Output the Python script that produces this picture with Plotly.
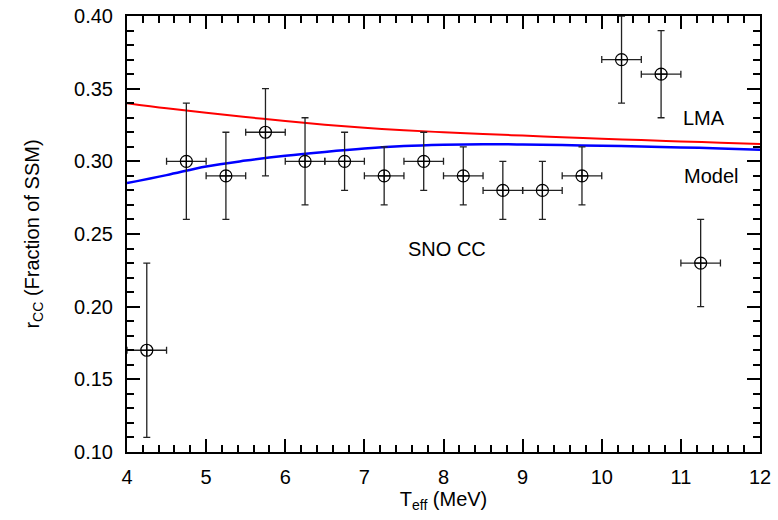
import plotly.graph_objects as go

# Data points (SNO CC)
t_eff = [4.25, 4.75, 5.25, 5.75, 6.25, 6.75, 7.25, 7.75, 8.25, 8.75, 9.25, 9.75, 10.25, 10.75, 11.25]
r_cc = [0.17, 0.30, 0.29, 0.32, 0.30, 0.30, 0.29, 0.30, 0.29, 0.28, 0.28, 0.29, 0.37, 0.36, 0.23]
r_err = [0.06, 0.04, 0.03, 0.03, 0.03, 0.02, 0.02, 0.02, 0.02, 0.02, 0.02, 0.02, 0.03, 0.03, 0.03]
t_err = [0.25] * 15

# Curves
curve_x = [4.0, 4.5, 5.0, 5.5, 6.0, 6.5, 7.0, 7.5, 8.0, 8.5, 9.0, 9.5, 10.0, 10.5, 11.0, 11.5, 12.0]
lma = [0.340, 0.3365, 0.3335, 0.3305, 0.3277, 0.3252, 0.3231, 0.3214, 0.3200, 0.3188, 0.3177, 0.3166, 0.3156, 0.3146, 0.3137, 0.3128, 0.3120]
model = [0.285, 0.2905, 0.2965, 0.3005, 0.3038, 0.3065, 0.3088, 0.3105, 0.3114, 0.3118, 0.3116, 0.3112, 0.3107, 0.3102, 0.3096, 0.3089, 0.3080]

FONT = "Liberation Sans, Arial, sans-serif"

fig = go.Figure()
fig.add_trace(go.Scatter(x=curve_x, y=lma, mode="lines", line=dict(color="#ff0000", width=2, shape="spline"), showlegend=False))
fig.add_trace(go.Scatter(x=curve_x, y=model, mode="lines", line=dict(color="#0000ff", width=2.5, shape="spline"), showlegend=False))
fig.add_trace(go.Scatter(
    x=t_eff, y=r_cc, mode="markers",
    marker=dict(symbol="circle-cross-open", size=12, color="black", line=dict(width=1.2, color="black")),
    error_y=dict(type="data", array=r_err, color="#222222", thickness=1.3, width=3.5),
    error_x=dict(type="data", array=t_err, color="#222222", thickness=1.3, width=3.5),
    showlegend=False, cliponaxis=False))

font_txt = dict(family=FONT, size=20, color="black")
fig.add_annotation(x=11.29, y=0.330, text="LMA", showarrow=False, font=font_txt, xanchor="center")
fig.add_annotation(x=11.38, y=0.290, text="Model", showarrow=False, font=font_txt, xanchor="center")
fig.add_annotation(x=8.04, y=0.240, text="SNO CC", showarrow=False, font=font_txt, xanchor="center")

axis_common = dict(showline=True, linecolor="black", linewidth=2, mirror="allticks",
                   ticks="inside", ticklen=13, tickwidth=2, tickcolor="black",
                   showgrid=False, zeroline=False, automargin=False,
                   tickfont=dict(family=FONT, size=20, color="black"))

fig.update_xaxes(range=[4, 12], dtick=1, tick0=4, ticklabelstandoff=6,
                 minor=dict(dtick=0.2, ticks="inside", ticklen=7, tickwidth=2, tickcolor="black"),
                 title=dict(text="T<sub>eff</sub> (MeV)", font=dict(family=FONT, size=20, color="black"), standoff=3),
                 **axis_common)
fig.update_yaxes(range=[0.10, 0.40], dtick=0.05, tick0=0.10, tickformat=".2f", ticklabelstandoff=8,
                 minor=dict(dtick=0.01, ticks="inside", ticklen=7, tickwidth=2, tickcolor="black"),
                 title=dict(text="r<sub>CC</sub> (Fraction of SSM)", font=dict(family=FONT, size=20, color="black"), standoff=29),
                 **axis_common)

fig.update_layout(width=778, height=520, margin=dict(l=127, r=18, t=16, b=68),
                  plot_bgcolor="white", paper_bgcolor="white")
fig.write_html("out.html", config={"displayModeBar": False},
               post_script="document.body.style.margin='0';document.body.style.overflow='hidden';")
